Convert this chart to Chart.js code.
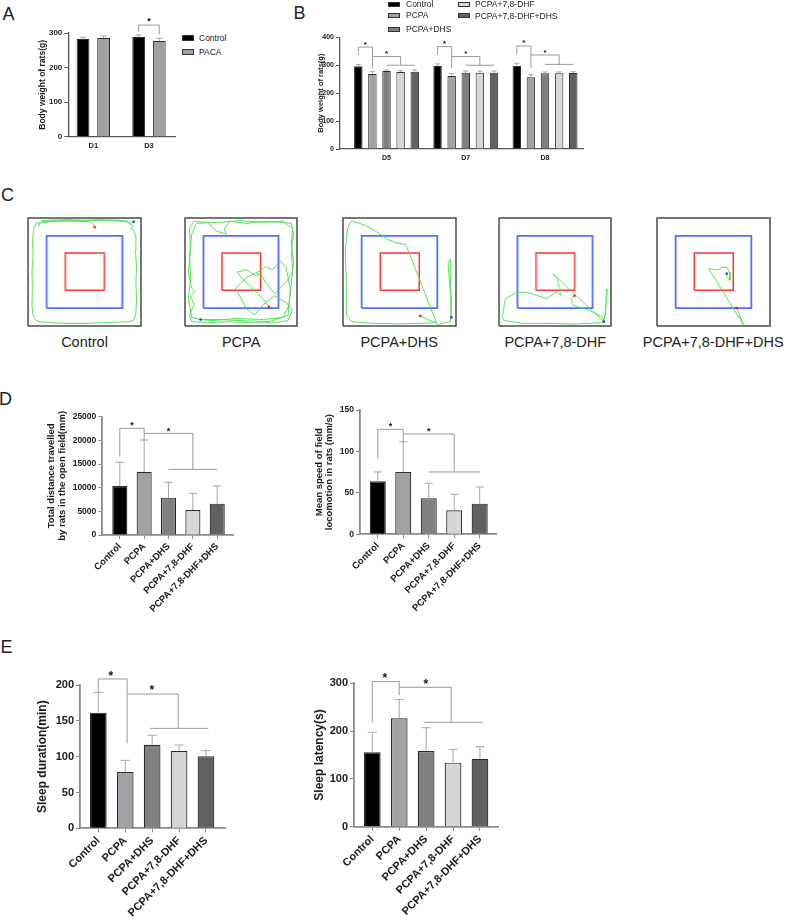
<!DOCTYPE html>
<html>
<head>
<meta charset="utf-8">
<script src="https://cdn.jsdelivr.net/npm/chart.js@4.4.1/dist/chart.umd.min.js"></script>
<style>
  body { margin: 0; background: #fff; }
  #fig { position: relative; width: 789px; height: 921px; overflow: hidden; background: #fff;
         font-family: "Liberation Sans", Arial, sans-serif; color: #222; }
  #fig canvas { position: absolute; }
  .letter { position: absolute; font-size: 18px; line-height: 18px; }
  .cap { position: absolute; width: 200px; text-align: center; font-size: 14.5px; line-height: 16px; }
  .leg { position: absolute; font-size: 8.5px; line-height: 10px; white-space: nowrap; }
  .leg i { position: absolute; display: block; box-sizing: border-box; border: 1px solid #333; }
</style>
</head>
<body>
<div id="fig"></div>
<script>
const FONT = '"Liberation Sans", Arial, sans-serif';

// ---------- data ----------
const groups = ['Control', 'PCPA', 'PCPA+DHS', 'PCPA+7,8-DHF', 'PCPA+7,8-DHF+DHS'];
const groupColors = ['#000000', '#a1a1a5', '#808080', '#d6d6d6', '#616161'];

// A: body weight (g)
const daysA = ['D1', 'D3'];
const seriesA = ['Control', 'PACA'];
const seriesAColors = ['#000000', '#a1a1a5'];
const weightA = [[282.6, 288.4], [285.5, 276.9]];
const weightA_sd = [[4.9, 5.8], [5.8, 7.8]];

// B: body weight (g), one row per group
const daysB = ['D5', 'D7', 'D8'];
const weightB = [
  [296, 297, 298.5],
  [268.7, 261.5, 256.7],
  [279.4, 273.4, 271],
  [275.8, 273.4, 271],
  [277, 273.4, 272]
];
const weightB_sd = [
  [7, 7.5, 8.5],
  [9.3, 8.5, 9.3],
  [3.6, 5.6, 5],
  [4.8, 5.6, 5],
  [6, 5.6, 5]
];

// D: open field
const distance = [10350, 13380, 7890, 5280, 6620];
const distance_sd = [5000, 6690, 3240, 3520, 3730];
const speed = [63.9, 75.2, 43.4, 29, 37];
const speed_sd = [11.3, 36.6, 18.1, 19.3, 20.1];

// E: sleep
const sleepDuration = [161.4, 78.6, 116.7, 107.9, 100.5];
const sleepDuration_sd = [28.4, 16.3, 13.1, 8.4, 7.9];
const sleepLatency = [155.6, 226.7, 158.4, 134, 142.3];
const sleepLatency_sd = [41.8, 39.1, 48.8, 27.9, 25.1];

// significance brackets: polylines in data units [x, y]
const bracketA = [[[0.815, 304], [0.815, 323], [1.185, 323], [1.185, 296]]];
const starsA = [[1, 340]];
const bracketTopB = [365, 366.6, 369];
const bracketMidB = [331, 331, 336.7];
const bracketLowB = [300, 300, 303];
const bracketD1 = [
  [[0, 16550], [0, 22540], [1, 22540], [1, 20070]],
  [[1, 21480], [3, 21480], [3, 13870]],
  [[2, 13870], [4, 13870]]
];
const starsD1 = [[0.5, 23450], [2, 22390]];
const bracketD2 = [
  [[0, 91.7], [0, 126.7], [1, 126.7], [1, 111.8]],
  [[1, 121], [3, 121], [3, 75.2]],
  [[2, 75.2], [4, 75.2]]
];
const starsD2 = [[0.5, 133], [2, 126.7]];
const bracketE1 = [
  [[0, 189.8], [0, 208.4], [1.07, 208.4], [1.07, 118.6]],
  [[1.07, 187.4], [2.97, 187.4], [2.97, 139.5]],
  [[1.92, 139.5], [4.09, 139.5]]
];
const starsE1 = [[0.47, 215.5], [1.99, 195.3]];
const bracketE2 = [
  [[0, 218.4], [0, 303.5], [1, 303.5], [1, 275]],
  [[1, 291.6], [2.93, 291.6], [2.93, 218.4]],
  [[1.92, 218.4], [4.1, 218.4]]
];
const starsE2 = [[0.47, 315.3], [1.99, 302]];

// C: open field arena (0-100 both ways, y up) and tracks
const arenaZone = [0, 100];
const blueZone = [16.5, 83.5];
const redZone = [33, 67.5];
const trackControl = [[59,91.5],[58,94],[55,96.5],[45,97],[30,97.5],[18,97],[12,96],[9,93],[11,96],[7,95],[5,90],[4,80],[4.5,65],[3.5,50],[4,35],[3.5,20],[4.5,10],[6,6],[10,4],[20,3],[35,2.5],[50,2.5],[65,3],[80,3.5],[90,4],[94,6],[95.5,12],[96,25],[95.5,40],[96,55],[95,70],[95.5,82],[94,88],[91,90],[93,93],[90,94],[88,97],[80,98],[65,98.5],[50,98],[35,98.5],[20,98],[12,97.5],[14,96],[25,97],[45,97.5],[70,97.5],[85,97],[91,95],[93.5,96.5]];
const trackPCPA = [[75,17.6],[70,25],[60,35],[50,45],[47,50],[55,52],[62,47],[68,48],[72,40],[80,30],[85,35],[90,40],[96,50],[95,70],[97,85],[95,95],[85,96],[70,97],[55,95],[40,97],[35,90],[37,85],[28,88],[20,96],[8,97],[4,90],[5,70],[3,50],[6,35],[9,32],[5,28],[8,20],[4,10],[6,4],[20,3],[40,4],[60,3],[80,3],[92,5],[96,15],[90,22],[80,28],[70,20],[62,10],[55,16],[45,35],[55,45],[65,50],[72,55],[78,52],[85,60],[90,55],[94,35],[92,10],[75,4],[50,5],[30,6],[14,6],[6,8],[3,25],[5,45],[4,65],[6,85],[10,95],[30,96],[50,97.5],[70,96],[88,97],[96,90],[95,75],[97,60],[95,40],[93,20],[88,8],[70,6],[45,7],[25,5],[14,6]];
const trackDHS = [[68.4,9.4],[75,6],[83,3],[70,2.5],[50,2],[25,2.5],[8,4],[3,10],[3,40],[2,70],[4,90],[7,97],[12,96],[20,93],[30,87],[40,80],[47,77],[55.6,75.5],[83.5,1],[90,3],[95,4],[96,20],[95,45],[95,62],[93,58],[95,30],[96,8]];
const trackDHF = [[67.3,28],[64.3,25.3],[65.8,19.2],[80.4,14.6],[92.1,8.5],[93.6,4],[48.2,48.2],[52,44],[55.6,28.4],[51.2,31.4],[42.4,25.3],[27.8,30.5],[16,31.4],[5.8,25.3],[2.9,8.5],[4.4,5],[22,2.4],[45,2.5],[65.8,1.8],[92,3],[95,10],[96.5,34.5],[95,14.6],[93.6,4]];
const trackDHFDHS = [[70.4,16.7],[76.8,0.6],[45.8,53],[54.5,52],[57.4,54.5],[61.7,54],[64,50],[64.6,42.4],[61.7,45.5],[61.7,48.5]];
const tracks = [trackControl, trackPCPA, trackDHS, trackDHF, trackDHFDHS];

// ---------- helpers ----------
const fig = document.getElementById('fig');

function addCanvas(x, y, w, h) {
  const c = document.createElement('canvas');
  c.width = w; c.height = h;
  c.style.left = x + 'px'; c.style.top = y + 'px';
  c.style.width = w + 'px'; c.style.height = h + 'px';
  fig.appendChild(c);
  return c;
}

function addText(cls, html, css) {
  const d = document.createElement('div');
  d.className = cls;
  d.innerHTML = html;
  Object.assign(d.style, css);
  fig.appendChild(d);
  return d;
}

function overlay(spec) {
  return {
    id: 'overlay',
    afterDatasetsDraw(chart) {
      const { ctx } = chart;
      const xs = chart.scales.x, ys = chart.scales.y;
      ctx.save();
      ctx.lineWidth = 1;
      ctx.strokeStyle = '#a6a6a6';
      spec.sd.forEach((sds, di) => {
        const meta = chart.getDatasetMeta(di);
        meta.data.forEach((bar, j) => {
          const top = ys.getPixelForValue(chart.data.datasets[di].data[j].y + sds[j]);
          ctx.beginPath();
          ctx.moveTo(bar.x, bar.y);
          ctx.lineTo(bar.x, top);
          ctx.moveTo(bar.x - spec.cap, top);
          ctx.lineTo(bar.x + spec.cap, top);
          ctx.stroke();
        });
      });
      ctx.strokeStyle = '#9a9a9a';
      spec.lines.forEach(pl => {
        ctx.beginPath();
        pl.forEach(([vx, vy], k) => {
          const px = xs.getPixelForValue(vx), py = ys.getPixelForValue(vy);
          if (k) ctx.lineTo(px, py); else ctx.moveTo(px, py);
        });
        ctx.stroke();
      });
      ctx.fillStyle = '#111';
      ctx.font = 'bold ' + spec.star + 'px ' + FONT;
      ctx.textAlign = 'center';
      ctx.textBaseline = 'middle';
      spec.stars.forEach(([vx, vy]) => {
        ctx.fillText('*', xs.getPixelForValue(vx), ys.getPixelForValue(vy) + spec.star * 0.22);
      });
      ctx.restore();
    }
  };
}

function barChart(o) {
  const [cx, cy, cw, ch] = o.box;
  const [l, t, r, b] = o.area;
  const canvas = addCanvas(cx, cy, cw, ch);
  const lh = o.titleSize * 1.12;
  const datasets = o.series.map((vals, i) => ({
    label: o.names[i],
    data: vals.map((v, j) => ({ x: j, y: v })),
    backgroundColor: o.colors[i],
    borderColor: '#2a2a2a',
    borderWidth: o.barBorder,
    categoryPercentage: o.catPct,
    barPercentage: o.barPct
  }));
  new Chart(canvas, {
    type: 'bar',
    data: { datasets },
    options: {
      responsive: false,
      animation: false,
      devicePixelRatio: 1,
      layout: { padding: { left: 0, top: t - cy, right: cx + cw - r, bottom: 0 } },
      plugins: { legend: { display: false }, tooltip: { enabled: false } },
      scales: {
        x: {
          type: 'linear',
          offset: false,
          min: o.xRange[0],
          max: o.xRange[1],
          afterBuildTicks: s => { s.ticks = o.labels.map((_, i) => ({ value: i })); },
          afterFit: s => { s.height = cy + ch - b; },
          ticks: {
            autoSkip: false,
            callback: v => o.labels[v],
            minRotation: o.rot, maxRotation: o.rot,
            padding: o.xPad,
            color: '#1a1a1a',
            font: { family: FONT, size: o.xFont, weight: 'bold' }
          },
          grid: { display: o.xTicks > 0, offset: false, drawOnChartArea: false, tickLength: o.xTicks, color: o.axisColor, lineWidth: 1 },
          border: { display: true, color: o.axisColor, width: o.axisWidth }
        },
        y: {
          min: 0,
          max: o.yMax,
          afterFit: s => { s.width = l - cx; },
          ticks: {
            stepSize: o.yStep,
            padding: 2,
            callback: v => String(v),
            color: '#1a1a1a',
            font: { family: FONT, size: o.yFont, weight: 'bold' }
          },
          grid: { drawOnChartArea: false, tickLength: 4, color: o.axisColor, lineWidth: 1 },
          border: { display: true, color: o.axisColor, width: o.axisWidth },
          title: {
            display: true,
            text: o.title,
            color: '#1a1a1a',
            font: { family: FONT, size: o.titleSize, weight: 'bold', lineHeight: 1.12 },
            padding: { top: o.titleX - cx - lh / 2, bottom: 0 }
          }
        }
      }
    },
    plugins: [overlay({ sd: o.sd, lines: o.lines, stars: o.stars, cap: o.cap, star: o.starSize })]
  });
}

function squarePts(z) {
  return [[z[0], z[0]], [z[1], z[0]], [z[1], z[1]], [z[0], z[1]], [z[0], z[0]]].map(([x, y]) => ({ x, y }));
}

function arenaChart(box, track) {
  const [x0, y0, x1, y1] = box;
  const pad = 3;
  const canvas = addCanvas(x0 - pad, y0 - pad, x1 - x0 + 2 * pad, y1 - y0 + 2 * pad);
  const pts = track.map(([x, y]) => ({ x, y }));
  const outline = (z, color, w) => ({ data: squarePts(z), showLine: true, borderColor: color, borderWidth: w, pointRadius: 0, clip: pad });
  new Chart(canvas, {
    type: 'scatter',
    data: {
      datasets: [
        { data: [pts[0]], pointStyle: 'rect', pointRadius: 1.6, backgroundColor: '#e01818', borderWidth: 0 },
        { data: [pts[pts.length - 1]], pointStyle: 'rect', pointRadius: 1.6, backgroundColor: '#1530ff', borderWidth: 0 },
        { data: pts, showLine: true, borderColor: '#44e044', borderWidth: 0.9, pointRadius: 0, clip: pad },
        outline(redZone, '#ff3535', 1.5),
        outline(blueZone, '#5070ff', 1.8),
        outline(arenaZone, '#4a4a4a', 1.5)
      ]
    },
    options: {
      responsive: false,
      animation: false,
      devicePixelRatio: 1,
      layout: { padding: pad },
      plugins: { legend: { display: false }, tooltip: { enabled: false } },
      scales: {
        x: { type: 'linear', min: 0, max: 100, display: false },
        y: { type: 'linear', min: 0, max: 100, display: false }
      }
    }
  });
}

// ---------- panel letters ----------
[['A', 2.5, 4.6], ['B', 293.5, 4.4], ['C', 1, 185.6], ['D', -1, 389.6], ['E', 0.5, 637.6]].forEach(([s, x, y]) => {
  addText('letter', s, { left: x + 'px', top: y + 'px' });
});

// ---------- A ----------
barChart({
  box: [30, 0, 150, 165], area: [68.3, 33, 175, 136.7],
  xRange: [-0.449, 1.467], labels: daysA,
  series: weightA, sd: weightA_sd, names: seriesA, colors: seriesAColors,
  catPct: 0.74, barPct: 0.62, barBorder: 1,
  yMax: 300, yStep: 100, yFont: 8, xFont: 7.5, rot: 0, xPad: 5, xTicks: 0,
  axisColor: '#555', axisWidth: 1.3,
  title: 'Body weight of rats(g)', titleX: 42.7, titleSize: 8.5,
  lines: bracketA, stars: starsA, cap: 3, starSize: 9
});
seriesA.forEach((s, i) => {
  const d = addText('leg', s, { left: '199px', top: (37.7 + 14 * i - 5) + 'px' });
  const sw = document.createElement('i');
  Object.assign(sw.style, { left: '-17px', top: '2px', width: '12px', height: '6px', background: seriesAColors[i] });
  d.appendChild(sw);
});

// ---------- B ----------
const linesB = [], starsB = [];
const offB = 0.178;
daysB.forEach((_, g) => {
  linesB.push([[g - 2 * offB, bracketTopB[g] - 28], [g - 2 * offB, bracketTopB[g]], [g - offB, bracketTopB[g]], [g - offB, 290]]);
  linesB.push([[g - offB, bracketMidB[g]], [g + offB, bracketMidB[g]], [g + offB, bracketLowB[g]]]);
  linesB.push([[g, bracketLowB[g]], [g + 2 * offB, bracketLowB[g]]]);
  starsB.push([g - 1.5 * offB, bracketTopB[g] + 16], [g, bracketMidB[g] + 15]);
});
barChart({
  box: [310, 0, 282, 170], area: [340, 37.3, 583.3, 149],
  xRange: [-0.587, 2.483], labels: daysB,
  series: weightB, sd: weightB_sd, names: groups, colors: groupColors,
  catPct: 0.89, barPct: 0.6, barBorder: 1,
  yMax: 400, yStep: 100, yFont: 7, xFont: 7, rot: 0, xPad: 5, xTicks: 0,
  axisColor: '#555', axisWidth: 1.3,
  title: 'Body weight of rats(g)', titleX: 321, titleSize: 7.5,
  lines: linesB, stars: starsB, cap: 2.5, starSize: 8
});
const legPosB = [[388, 4.3], [388, 15], [388, 29.3], [458, 4.3], [458, 15.7]];
groups.forEach((s, i) => {
  const [bx, by] = legPosB[i];
  const d = addText('leg', s, { left: (bx + (i < 3 ? 18 : 17)) + 'px', top: (by - 5) + 'px' });
  const sw = document.createElement('i');
  Object.assign(sw.style, { left: (i < 3 ? -18 : -17) + 'px', top: '2.5px', width: '12px', height: '5px', background: groupColors[i] });
  d.appendChild(sw);
});

// ---------- C ----------
const arenaBoxes = [[27.3, 216.7, 141.7, 326.7], [184, 216.7, 298.3, 326.7], [341.7, 216.7, 456.7, 326.7],
                    [498.3, 216.7, 612.3, 326.7], [655.7, 216.7, 770.7, 326.7]];
arenaBoxes.forEach((bx, i) => {
  arenaChart(bx, tracks[i]);
  addText('cap', groups[i], { left: ((bx[0] + bx[2]) / 2 - 100) + 'px', top: '334px' });
});

// ---------- D ----------
barChart({
  box: [40, 395, 205, 235], area: [102.3, 416.7, 233.3, 535],
  xRange: [-0.719, 4.66], labels: groups,
  series: [distance], sd: [distance_sd], names: ['Distance'], colors: [groupColors],
  catPct: 1, barPct: 0.62, barBorder: 1.2,
  yMax: 25000, yStep: 5000, yFont: 8.5, xFont: 9.5, rot: 45, xPad: 2, xTicks: 4,
  axisColor: '#8a8a8a', axisWidth: 1.8,
  title: ['Total distance travelled', 'by rats in the open field(mm)'], titleX: 51.7, titleSize: 9.5,
  lines: bracketD1, stars: starsD1, cap: 4, starSize: 9
});
barChart({
  box: [306, 390, 205, 240], area: [360, 410, 496.7, 534.3],
  xRange: [-0.698, 4.667], labels: groups,
  series: [speed], sd: [speed_sd], names: ['Speed'], colors: [groupColors],
  catPct: 1, barPct: 0.63, barBorder: 1.2,
  yMax: 150, yStep: 50, yFont: 8.5, xFont: 9.5, rot: 45, xPad: 2, xTicks: 4,
  axisColor: '#8a8a8a', axisWidth: 1.8,
  title: ['Mean speed of field', 'locomotion in rats (mm/s)'], titleX: 319, titleSize: 9.5,
  lines: bracketD2, stars: starsD2, cap: 4, starSize: 9
});

// ---------- E ----------
barChart({
  box: [30, 665, 215, 256], area: [80, 685, 225, 828.3],
  xRange: [-0.68, 4.706], labels: groups,
  series: [sleepDuration], sd: [sleepDuration_sd], names: ['Sleep duration'], colors: [groupColors],
  catPct: 1, barPct: 0.62, barBorder: 1.2,
  yMax: 200, yStep: 50, yFont: 11, xFont: 11, rot: 45, xPad: 2, xTicks: 4,
  axisColor: '#8a8a8a', axisWidth: 1.8,
  title: 'Sleep duration(min)', titleX: 42.7, titleSize: 12,
  lines: bracketE1, stars: starsE1, cap: 4.5, starSize: 12
});
barChart({
  box: [306, 663, 205, 258], area: [354, 683.3, 498, 826.7],
  xRange: [-0.68, 4.67], labels: groups,
  series: [sleepLatency], sd: [sleepLatency_sd], names: ['Sleep latency'], colors: [groupColors],
  catPct: 1, barPct: 0.62, barBorder: 1.2,
  yMax: 300, yStep: 100, yFont: 11, xFont: 11, rot: 45, xPad: 2, xTicks: 4,
  axisColor: '#8a8a8a', axisWidth: 1.8,
  title: 'Sleep latency(s)', titleX: 320, titleSize: 12,
  lines: bracketE2, stars: starsE2, cap: 4.5, starSize: 12
});
</script>
</body>
</html>
